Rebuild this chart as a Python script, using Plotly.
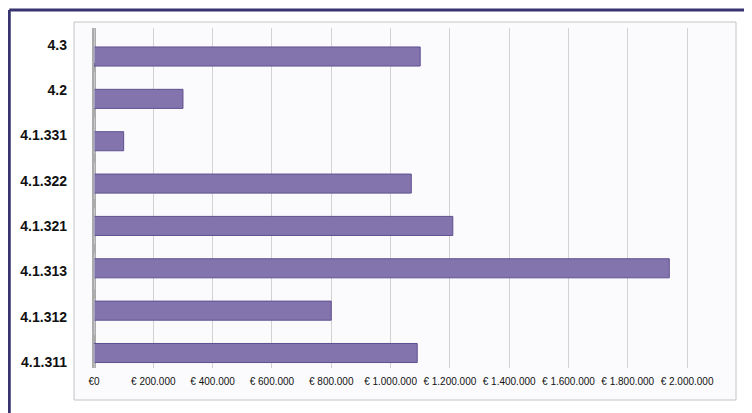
import plotly.graph_objects as go

categories = ["4.1.311", "4.1.312", "4.1.313", "4.1.321", "4.1.322", "4.1.331", "4.2", "4.3"]
values = [1090000, 800000, 1940000, 1210000, 1070000, 100000, 300000, 1100000]
tick_vals = [0, 200000, 400000, 600000, 800000, 1000000, 1200000, 1400000, 1600000, 1800000, 2000000]
tick_text = ["€0", "€ 200.000", "€ 400.000", "€ 600.000", "€ 800.000", "€ 1.000.000",
             "€ 1.200.000", "€ 1.400.000", "€ 1.600.000", "€ 1.800.000", "€ 2.000.000"]

W, H = 752, 413
OFF = 8  # page body margin
L, T = 92 - OFF, 28 - OFF
R = W - (736 - OFF)
B = H - (368 - OFF)
pw, ph = W - L - R, H - T - B


def px(x):
    return (x - OFF - L) / pw


def py(y):
    return (H - B - (y - OFF)) / ph


fig = go.Figure()
fig.add_trace(go.Bar(
    x=values, y=categories, orientation="h", width=0.45,
    marker=dict(color="#8474AE", line=dict(color="#5E5090", width=1)),
    showlegend=False, hoverinfo="x+y",
))
# invisible trace carrying category labels on a second axis
fig.add_trace(go.Bar(
    x=[0] * len(categories), y=categories, orientation="h", yaxis="y2",
    marker=dict(color="rgba(0,0,0,0)"), showlegend=False, hoverinfo="skip",
))

fig.update_layout(
    width=W, height=H,
    margin=dict(l=L, r=R, t=T, b=B),
    paper_bgcolor="white",
    plot_bgcolor="rgba(0,0,0,0)",
    xaxis=dict(
        range=[0, 2165000], tickvals=tick_vals, ticktext=tick_text,
        showgrid=True, gridcolor="#D2D2D2", gridwidth=1,
        zeroline=True, zerolinecolor="#ABABAB", zerolinewidth=4,
        showline=False, ticks="", ticklabelstandoff=6,
        tickfont=dict(family="Liberation Sans, Arial", size=10, color="#111111"),
        fixedrange=True,
    ),
    yaxis=dict(
        categoryorder="array", categoryarray=categories,
        range=[-0.354, 7.673], showticklabels=False, showgrid=False,
        zeroline=False, showline=False, ticks="",
    ),
    yaxis2=dict(
        overlaying="y", side="left", categoryorder="array", categoryarray=categories,
        range=[-0.132, 7.375], showgrid=False, zeroline=False, showline=False,
        ticks="", ticklabelstandoff=26,
        tickfont=dict(family="Liberation Sans, Arial", size=14, color="#111111", weight="bold"),
    ),
    shapes=[
        dict(type="rect", xref="paper", yref="paper", layer="below",
             x0=px(72), x1=px(736), y0=py(400), y1=py(22),
             fillcolor="#FBFBFD", line=dict(color="#C4C4C8", width=1)),
        dict(type="line", xref="paper", yref="paper",
             x0=px(7), x1=px(770), y0=py(10), y1=py(10),
             line=dict(color="#383470", width=3)),
        dict(type="line", xref="paper", yref="paper",
             x0=px(7), x1=px(7), y0=py(10), y1=py(430),
             line=dict(color="#383470", width=3)),
    ],
)

fig.write_html("out.html")
